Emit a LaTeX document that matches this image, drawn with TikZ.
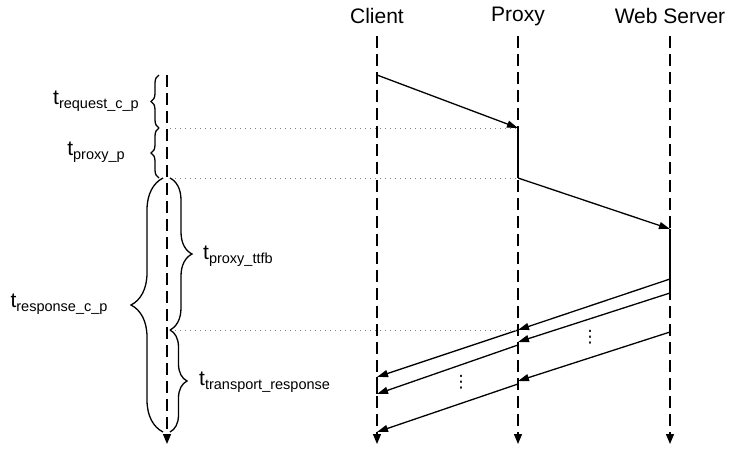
\documentclass[tikz,border=0pt]{standalone}
\usepackage{fontspec}
\setmainfont{Liberation Sans}
\newfontfamily\symfont{DejaVu Sans}
\usetikzlibrary{arrows.meta,decorations.pathreplacing}
\newcommand{\tsub}[1]{t\raisebox{-0.35ex}{\fontsize{14.5}{16}\selectfont #1}}
\tikzset{
  lifeline/.style={line width=1.3pt, dash pattern=on 12pt off 6pt, -{Triangle[width=8pt,length=10pt]}},
  msg/.style={line width=1.3pt, -{Triangle[width=7pt,length=11pt]}},
  busy/.style={line width=1.3pt},
  guide/.style={gray, line width=1pt, dash pattern=on 1.2pt off 3.8pt},
  tbrace/.style={decorate, decoration={brace, amplitude=#1}, line width=1.3pt},
  head/.style={font=\fontsize{21}{24}\selectfont},
  tlabel/.style={font=\fontsize{21}{24}\selectfont, inner sep=0pt},
  more/.style={font=\symfont\fontsize{17}{17}\selectfont, inner sep=0pt},
}
\begin{document}
\begin{tikzpicture}[x=1pt, y=-1pt]
    \useasboundingbox (0,0) rectangle (729,451);
    % heads
    \node[head] (client) at (377,16) {Client};
    \node[head] (proxy) at (518,16) {Proxy};
    \node[head] (server) at (670,16) {Web Server};
    % lifelines
    \coordinate (cTop) at (377,36);  \coordinate (cBot) at (377,444);
    \coordinate (pTop) at (518,36);  \coordinate (pBot) at (518,444);
    \coordinate (sTop) at (670,36);  \coordinate (sBot) at (670,444);
    \coordinate (tTop) at (167,75);  \coordinate (tBot) at (167,444);
    \draw[lifeline] (cTop) -- (cBot);
    \draw[lifeline] (pTop) -- (pBot);
    \draw[lifeline] (sTop) -- (sBot);
    \draw[lifeline] (tTop) -- (tBot);
    % message points
    \coordinate (c1) at (377,75);
    \coordinate (p1) at (518,128);
    \coordinate (p2) at (518,178);
    \coordinate (s1) at (670,229);
    \coordinate (s2) at (670,279);
    \coordinate (s3) at (670,293);
    \coordinate (s4) at (670,332);
    \coordinate (pr1) at (518,330);
    \coordinate (pr2) at (518,342);
    \coordinate (pr2b) at (518,345);
    \coordinate (pr3) at (518,381);
    \coordinate (pr3b) at (518,384);
    \coordinate (cr1) at (377,377);
    \coordinate (cr2) at (377,394);
    \coordinate (cr3) at (377,432);
    % busy parts
    \draw[busy] (p1) -- (p2);
    \draw[busy] (s1) -- (s3);
    \draw[busy] (pr2) -- (pr2b);
    \draw[busy] (pr3) -- (pr3b);
    \draw[busy] (cr1) -- (cr2);
    % request
    \draw[msg] (c1) -- (p1);
    \draw[msg] (p2) -- (s1);
    % response
    \draw[msg] (s2) -- (pr1);
    \draw[msg] (pr1) -- (cr1);
    \draw[msg] (s3) -- (pr2);
    \draw[msg] (pr2b) -- (cr2);
    \draw[msg] (s4) -- (pr3);
    \draw[msg] (pr3b) -- (cr3);
    \node[more] (dotsA) at (590,337) {⋮};
    \node[more] (dotsB) at (461,382) {⋮};
    % guides
    \coordinate (g1) at (170,128);
    \coordinate (g2) at (170,178);
    \coordinate (g3) at (170,330);
    \draw[guide] (g1) -- (p1);
    \draw[guide] (g2) -- (p2);
    \draw[guide] (g3) -- (pr1);
    % braces
    \draw[tbrace=8pt] (159,128) -- (159,75);
    \draw[tbrace=8pt] (159,178) -- (159,128);
    \draw[tbrace=32pt] (163,432) -- (163,178);
    \draw[tbrace=22pt] (170,178) -- (170,330);
    \draw[tbrace=17pt] (170,330) -- (170,432);
    \node[tlabel] (treq) at (96,101) {\tsub{request\_c\_p}};
    \node[tlabel] (tprox) at (96,152) {\tsub{proxy\_p}};
    \node[tlabel] (tresp) at (59,304) {\tsub{response\_c\_p}};
    \node[tlabel, anchor=west] (tttfb) at (203,256) {\tsub{proxy\_ttfb}};
    \node[tlabel, anchor=west] (ttrans) at (199,382) {\tsub{transport\_response}};
\end{tikzpicture}
\end{document}
